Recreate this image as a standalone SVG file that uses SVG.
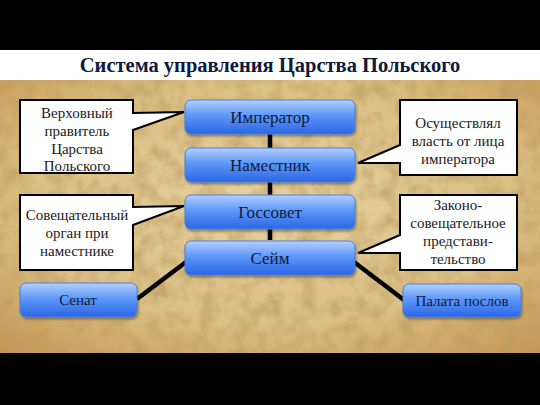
<svg xmlns="http://www.w3.org/2000/svg" width="540" height="405" viewBox="0 0 540 405" font-family="Liberation Serif, serif">
  <defs>
    <linearGradient id="blue" x1="0" y1="0" x2="0" y2="1">
      <stop offset="0" stop-color="#b4d0ff"/>
      <stop offset="0.45" stop-color="#5e98f8"/>
      <stop offset="1" stop-color="#2a66e4"/>
    </linearGradient>
    <radialGradient id="parch" cx="0.5" cy="0.45" r="0.75">
      <stop offset="0" stop-color="#e6d2a0"/>
      <stop offset="0.6" stop-color="#dbbf84"/>
      <stop offset="1" stop-color="#c49552"/>
    </radialGradient>
    <filter id="tex" x="0" y="0" width="1" height="1">
      <feTurbulence type="fractalNoise" baseFrequency="0.06" numOctaves="5" seed="7"/>
      <feColorMatrix type="matrix" values="0 0 0 0 0.5  0 0 0 0 0.33  0 0 0 0 0.12  0 0 0 1.9 -0.7"/>
    </filter>
    <filter id="sh" x="-10%" y="-20%" width="120%" height="150%">
      <feDropShadow dx="1" dy="2" stdDeviation="1.2" flood-color="#000" flood-opacity="0.35"/>
    </filter>
  </defs>
  <style>
    .node rect { fill: url(#blue); stroke: #4a7fdc; stroke-width: 1; filter: url(#sh); }
    .node text { font-size: 17px; fill: #0e1a3c; text-anchor: middle; }
    .small text { font-size: 15px; }
    .callout path { fill: #ffffff; stroke: #000000; stroke-width: 2; stroke-linejoin: miter; }
    .callout text { font-size: 15px; fill: #1a1a1a; text-anchor: middle; }
    .conn line { stroke: #000000; stroke-width: 4.5; }
  </style>

  <!-- background -->
  <rect x="0" y="0" width="540" height="405" fill="#000000"/>
  <rect x="0" y="50" width="540" height="30" fill="#ffffff"/>
  <rect x="0" y="80" width="540" height="273" fill="url(#parch)"/>
  <rect x="0" y="80" width="540" height="273" filter="url(#tex)" opacity="0.75"/>

  <text x="270" y="72" font-size="20.5" font-weight="bold" fill="#0d1a3d" text-anchor="middle">Система управления Царства Польского</text>

  <!-- connectors -->
  <g id="connectors" class="conn">
    <line x1="270" y1="134" x2="270" y2="240"/>
    <line x1="186" y1="262" x2="137" y2="299"/>
    <line x1="354" y1="262" x2="404" y2="300"/>
  </g>

  <!-- callouts -->
  <g id="callout-emperor" class="callout">
    <path d="M20,100 H133 V113 L184,112 L133,130 V173 H20 Z"/>
    <text x="77" y="118">Верховный</text>
    <text x="77" y="136">правитель</text>
    <text x="77" y="154">Царства</text>
    <text x="77" y="171">Польского</text>
  </g>
  <g id="callout-namestnik" class="callout">
    <path d="M400,100 H517 V175 H400 V163 L358,163 L400,145 Z"/>
    <text x="458" y="128">Осуществлял</text>
    <text x="458" y="146">власть от лица</text>
    <text x="458" y="164">императора</text>
  </g>
  <g id="callout-gossovet" class="callout">
    <path d="M20,195 H133 V207 L184,206 L133,225 V270 H20 Z"/>
    <text x="77" y="220">Совещательный</text>
    <text x="77" y="238">орган при</text>
    <text x="77" y="256">наместнике</text>
  </g>
  <g id="callout-sejm" class="callout">
    <path d="M400,195 H517 V270 H400 V253 L358,253 L400,235 Z"/>
    <text x="458" y="210">Законо-</text>
    <text x="458" y="228">совещательное</text>
    <text x="458" y="246">представи-</text>
    <text x="458" y="264">тельство</text>
  </g>

  <!-- nodes -->
  <g id="node-emperor" class="node">
    <rect x="185" y="100" width="170" height="34" rx="6"/>
    <text x="270" y="123">Император</text>
  </g>
  <g id="node-namestnik" class="node">
    <rect x="185" y="148" width="170" height="34" rx="6"/>
    <text x="270" y="171">Наместник</text>
  </g>
  <g id="node-gossovet" class="node">
    <rect x="185" y="195" width="170" height="34" rx="6"/>
    <text x="270" y="218">Госсовет</text>
  </g>
  <g id="node-sejm" class="node">
    <rect x="185" y="241" width="170" height="34" rx="6"/>
    <text x="270" y="264">Сейм</text>
  </g>
  <g id="node-senat" class="node small">
    <rect x="20" y="283" width="117" height="34" rx="6"/>
    <text x="78" y="305">Сенат</text>
  </g>
  <g id="node-palata" class="node small">
    <rect x="403" y="284" width="118" height="33" rx="6"/>
    <text x="462" y="306">Палата послов</text>
  </g>
</svg>
